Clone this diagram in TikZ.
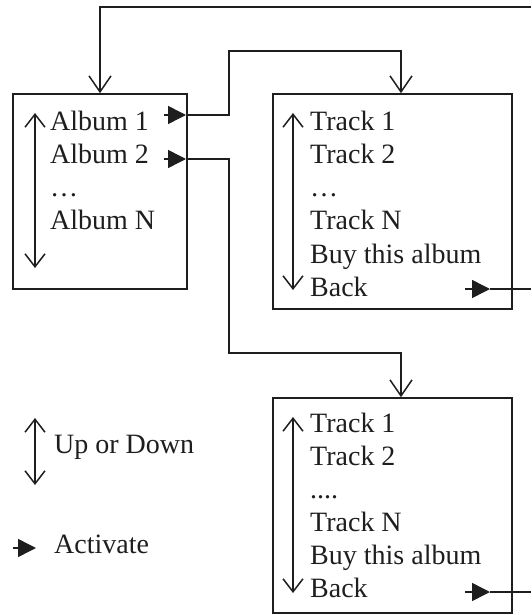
\documentclass[tikz,border=0pt]{standalone}
\usepackage{fontspec}
\setmainfont{Liberation Serif}
\usetikzlibrary{arrows.meta}

\definecolor{ink}{RGB}{30,30,30}
\newcommand{\dotsfour}{.\kern0pt.\kern0pt.\kern0pt.}

\tikzset{
  menu/.style={draw=ink, line width=1.6pt, rectangle, inner sep=0pt, minimum width=239pt, minimum height=215pt},
  item/.style={anchor=base west, inner sep=0pt, text=ink, font=\fontsize{28}{33}\selectfont},
  wire/.style={draw=ink, line width=1.5pt},
  link/.style={wire, -{Straight Barb[length=16pt,width=22pt,line width=1.5pt]}},
  updown/.style={wire, {Straight Barb[length=13pt,width=20pt,line width=1.5pt]}-{Straight Barb[length=13pt,width=20pt,line width=1.5pt]}},
  activate/.style={wire, -{Triangle[length=18pt,width=18pt]}}
}

\begin{document}
\begin{tikzpicture}[x=1pt, y=-1pt]
  \useasboundingbox (0,0) rectangle (531,615);

  \node[menu, minimum width=174pt, minimum height=195pt] (albums) at (100,191.5) {};
  \node[menu] (tracksA) at (392.5,201.5) {};
  \node[menu] (tracksB) at (392.5,505.5) {};

  \foreach \t [count=\i] in {Album 1, Album 2, …, Album N}
    \node[item] (album\i) at (50, {130+33*(\i-1)}) {\t};
  \foreach \t [count=\i] in {Track 1, Track 2, …, Track N, Buy this album, Back}
    \node[item] (trackA\i) at (310, {130+33.3*(\i-1)}) {\t};
  \foreach \t [count=\i] in {Track 1, Track 2, \dotsfour, Track N, Buy this album, Back}
    \node[item] (trackB\i) at (310, {432+33*(\i-1)}) {\t};

  \draw[updown] (35,113) -- (35,268);
  \draw[updown] (293,113) -- (293,290);
  \draw[updown] (293,417) -- (293,593);

  \draw[activate] (164,115) -- (186,115) coordinate (go1);
  \draw[activate] (164,159) -- (186,159) coordinate (go2);
  \draw[activate] (465,289) -- (490,289) coordinate (backA);
  \draw[activate] (465,592) -- (490,592) coordinate (backB);

  \coordinate (edgeA) at (531,289);
  \coordinate (edgeB) at (531,592);
  \coordinate (edgeTop) at (531,7);

  \draw[link] (go1) -| (229,51) -| ([xshift=8.5pt]tracksA.north);
  \draw[link] (go2) -| (229,353) -| ([xshift=8.5pt]tracksB.north);
  \draw[wire] (backA) -- (edgeA);
  \draw[wire] (backB) -- (edgeB);
  \draw[link] (edgeTop) -| (albums.north);

  \draw[updown] (35,418) -- (35,485);
  \node[item] (updownkey) at (54,453) {Up or Down};
  \draw[activate] (13,548) -- (36,548);
  \node[item] (activatekey) at (54,553) {Activate};
\end{tikzpicture}
\end{document}
